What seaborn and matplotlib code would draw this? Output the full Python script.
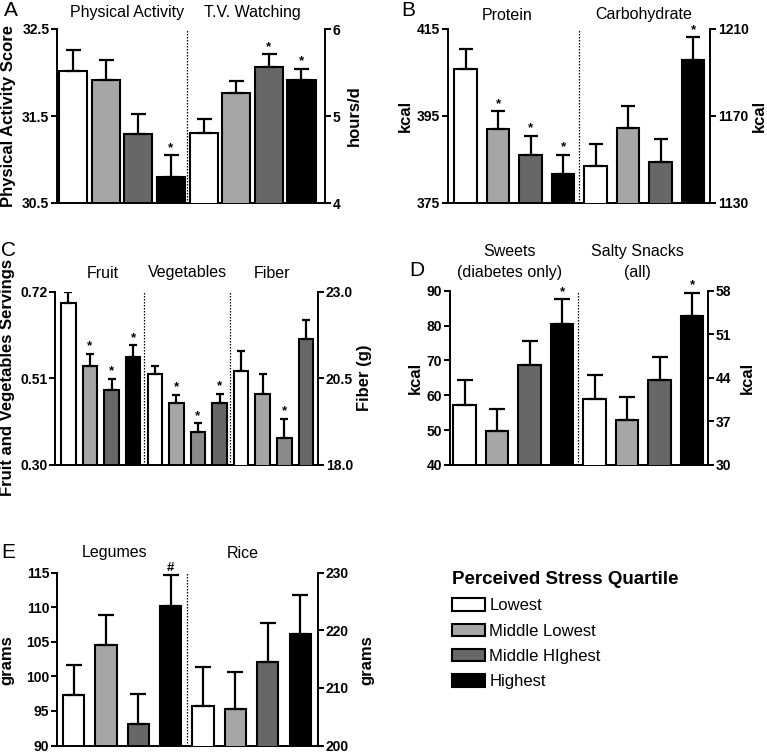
import matplotlib
matplotlib.use('Agg')
import matplotlib.pyplot as plt
import seaborn as sns
import pandas as pd
import numpy as np
from matplotlib.patches import Patch

sns.set_theme(style='ticks', rc={'axes.edgecolor': 'black', 'xtick.color': 'black',
                                 'ytick.color': 'black', 'text.color': 'black',
                                 'axes.labelcolor': 'black'})
plt.rcParams['font.family'] = ['Liberation Sans', 'DejaVu Sans']

W, H = 767, 753

# ---------------- data ----------------
quartiles = ['Lowest', 'Middle Lowest', 'Middle HIghest', 'Highest']

activity_mean = [32.02, 31.91, 31.29, 30.80]
activity_se = [0.24, 0.23, 0.23, 0.25]
activity_sig = ['', '', '', '*']
tv_mean = [4.81, 5.26, 5.56, 5.41]
tv_se = [0.15, 0.14, 0.15, 0.13]
tv_sig = ['', '', '*', '*']

protein_mean = [405.9, 391.9, 386.0, 381.7]
protein_se = [4.4, 4.2, 4.4, 4.4]
protein_sig = ['', '*', '*', '*']
carb_mean = [1146.9, 1164.3, 1148.7, 1195.7]
carb_se = [10.2, 10.3, 10.7, 10.5]
carb_sig = ['', '', '', '*']

fruit_mean = [0.692, 0.541, 0.481, 0.562]
fruit_se = [0.028, 0.028, 0.028, 0.028]
fruit_sig = ['', '*', '*', '*']
veg_mean = [0.520, 0.451, 0.380, 0.451]
veg_se = [0.021, 0.019, 0.021, 0.022]
veg_sig = ['', '*', '*', '*']
fiber_mean = [20.71, 20.06, 18.77, 21.64]
fiber_se = [0.57, 0.57, 0.56, 0.55]
fiber_sig = ['', '', '*', '']

sweets_mean = [57.2, 49.7, 68.6, 80.5]
sweets_se = [7.2, 6.5, 7.0, 7.0]
sweets_sig = ['', '', '', '*']
salty_mean = [40.6, 37.3, 43.6, 53.9]
salty_se = [3.9, 3.7, 3.8, 3.8]
salty_sig = ['', '', '', '*']

legumes_mean = [97.25, 104.5, 93.1, 110.1]
legumes_se = [4.45, 4.3, 4.4, 4.55]
legumes_sig = ['', '', '', '#']
rice_mean = [206.9, 206.3, 214.4, 219.3]
rice_se = [6.7, 6.4, 6.8, 6.8]
rice_sig = ['', '', '', '']

# ---------------- styles ----------------
palette = {'white': '#ffffff', 'light': '#a6a6a6', 'medium': '#8a8a8a',
           'dark': '#676767', 'black': '#000000'}
std_shades = ['white', 'light', 'dark', 'black']
alt_shades = ['white', 'light', 'medium', 'dark']

fig = plt.figure(figsize=(W / 100, H / 100), dpi=100)


def rect(l, t, r, b):
    return [l / W, 1 - b / H, (r - l) / W, (b - t) / H]


def draw_group(ax, start, means, ses, sig, shades, width, capsize):
    pos = np.arange(start, start + len(means))
    df = pd.DataFrame({'pos': pos, 'val': means, 'shade': shades})
    sns.barplot(data=df, x='pos', y='val', hue='shade', palette=palette,
                native_scale=True, dodge=False, width=width, edgecolor='black',
                linewidth=1.5, legend=False, errorbar=None, ax=ax, zorder=2)
    ax.errorbar(pos, means, yerr=[np.zeros(len(means)), ses], fmt='none',
                ecolor='black', elinewidth=1.6, capsize=capsize, capthick=1.6,
                zorder=3)
    for p, m, s, t in zip(pos, means, ses, sig):
        if t:
            ax.annotate(t, (p, m + s), xytext=(0, 1), textcoords='offset points',
                        ha='center', va='bottom', fontsize=9.5, fontweight='bold')


def style_axes(ax, ax2, lticks, lfmt, rticks, rfmt, xlim, dividers):
    for a in (ax, ax2):
        a.set_xlabel('')
        a.set_ylabel('')
        a.set_xticks([])
        a.spines['top'].set_visible(False)
        for s in a.spines.values():
            s.set_linewidth(1.4)
    ax.spines['right'].set_visible(False)
    ax2.spines['left'].set_visible(False)
    ax2.spines['bottom'].set_visible(False)
    ax.set_ylim(lticks[0], lticks[-1])
    ax2.set_ylim(rticks[0], rticks[-1])
    ax.set_yticks(lticks)
    ax.set_yticklabels([lfmt.format(v) for v in lticks], fontweight='bold', fontsize=10)
    ax2.set_yticks(rticks)
    ax2.set_yticklabels([rfmt.format(v) for v in rticks], fontweight='bold', fontsize=10)
    ax.tick_params(axis='y', left=True, right=False, direction='out', length=4,
                   width=1.4, pad=1.5)
    ax2.tick_params(axis='y', right=True, left=False, direction='out', length=4,
                    width=1.4, pad=1.5)
    ax.tick_params(axis='x', bottom=False)
    ax2.tick_params(axis='x', bottom=False)
    for d in dividers:
        ax.axvline(d, color='black', ls=(0, (1.2, 1.2)), lw=0.9, zorder=1)
    ax.set_xlim(*xlim)
    ax2.set_xlim(*xlim)


def ylab(text, x, y, size=12):
    fig.text(x / W, 1 - y / H, text, rotation=90, ha='center', va='center',
             fontsize=size, fontweight='bold')


def label(text, x, y, size=11.5):
    fig.text(x / W, 1 - y / H, text, ha='center', va='center', fontsize=size)


# ---------------- Panel A ----------------
axA = fig.add_axes(rect(57, 29, 325, 203))
axA2 = axA.twinx()
draw_group(axA, 0, activity_mean, activity_se, activity_sig, std_shades, 0.86, 5.4)
draw_group(axA2, 4, tv_mean, tv_se, tv_sig, std_shades, 0.86, 5.4)
style_axes(axA, axA2, [30.5, 31.5, 32.5], '{:.1f}', [4, 5, 6], '{:d}',
           (-0.49, 7.72), [3.5])
ylab('Physical Activity Score', 9, 116)
ylab('hours/d', 354, 116)
label('Physical Activity', 127, 12)
label('T.V. Watching', 252, 12)
label('A', 11, 10, 15)

# ---------------- Panel B ----------------
axB = fig.add_axes(rect(448, 29, 710, 203))
axB2 = axB.twinx()
draw_group(axB, 0, protein_mean, protein_se, protein_sig, std_shades, 0.69, 4.7)
draw_group(axB2, 4, carb_mean, carb_se, carb_sig, std_shades, 0.69, 4.7)
style_axes(axB, axB2, [375, 395, 415], '{:d}', [1130, 1170, 1210], '{:d}',
           (-0.54, 7.52), [3.5])
ylab('kcal', 405, 116)
ylab('kcal', 759, 116)
label('Protein', 507, 15)
label('Carbohydrate', 644, 15)
label('B', 408, 10, 15)

# ---------------- Panel C ----------------
axC = fig.add_axes(rect(55, 291.7, 318, 465))
axC2 = axC.twinx()
draw_group(axC, 0, fruit_mean, fruit_se, fruit_sig, std_shades, 0.67, 2.9)
draw_group(axC, 4, veg_mean, veg_se, veg_sig, alt_shades, 0.67, 2.9)
draw_group(axC2, 8, fiber_mean, fiber_se, fiber_sig, alt_shades, 0.67, 2.9)
style_axes(axC, axC2, [0.30, 0.51, 0.72], '{:.2f}', [18.0, 20.5, 23.0], '{:.1f}',
           (-0.62, 11.56), [3.5, 7.5])
ylab('Fruit and Vegetables Servings', 8, 378)
ylab('Fiber (g)', 364, 378)
label('Fruit', 103, 273)
label('Vegetables', 187.5, 273)
label('Fiber', 272, 273)
label('C', 8, 251, 15)

# ---------------- Panel D ----------------
axD = fig.add_axes(rect(450, 290.7, 708, 465))
axD2 = axD.twinx()
draw_group(axD, 0, sweets_mean, sweets_se, sweets_sig, std_shades, 0.69, 6)
draw_group(axD2, 4, salty_mean, salty_se, salty_sig, std_shades, 0.69, 6)
style_axes(axD, axD2, [40, 50, 60, 70, 80, 90], '{:d}', [30, 37, 44, 51, 58], '{:d}',
           (-0.45, 7.49), [3.5])
ylab('kcal', 415, 378)
ylab('kcal', 747, 378)
label('Sweets', 510, 252)
label('(diabetes only)', 510, 272)
label('Salty Snacks', 637, 252)
label('(all)', 637, 272)
label('D', 417, 270, 15)

# ---------------- Panel E ----------------
axE = fig.add_axes(rect(57, 572.5, 318, 745.5))
axE2 = axE.twinx()
draw_group(axE, 0, legumes_mean, legumes_se, legumes_sig, std_shades, 0.66, 6)
draw_group(axE2, 4, rice_mean, rice_se, rice_sig, std_shades, 0.66, 6)
style_axes(axE, axE2, [90, 95, 100, 105, 110, 115], '{:d}', [200, 210, 220, 230], '{:d}',
           (-0.51, 7.55), [3.5])
ylab('grams', 7, 660)
ylab('grams', 367, 660)
label('Legumes', 115, 553)
label('Rice', 243, 553)
label('E', 8, 552, 15)

# ---------------- Legend ----------------
handles = [Patch(facecolor=palette[s], edgecolor='black', linewidth=1.5, label=q)
           for s, q in zip(std_shades, quartiles)]
fig.legend(handles=handles, title='Perceived Stress Quartile', loc='upper left',
           bbox_to_anchor=(452 / W, 1 - 571 / H), frameon=False, fontsize=12,
           title_fontproperties={'weight': 'bold', 'size': 13.5},
           handlelength=2.0, handleheight=0.75, handletextpad=0.25,
           labelspacing=0.62, borderpad=0, borderaxespad=0, alignment='left')

fig.savefig('out.png', dpi=100)
